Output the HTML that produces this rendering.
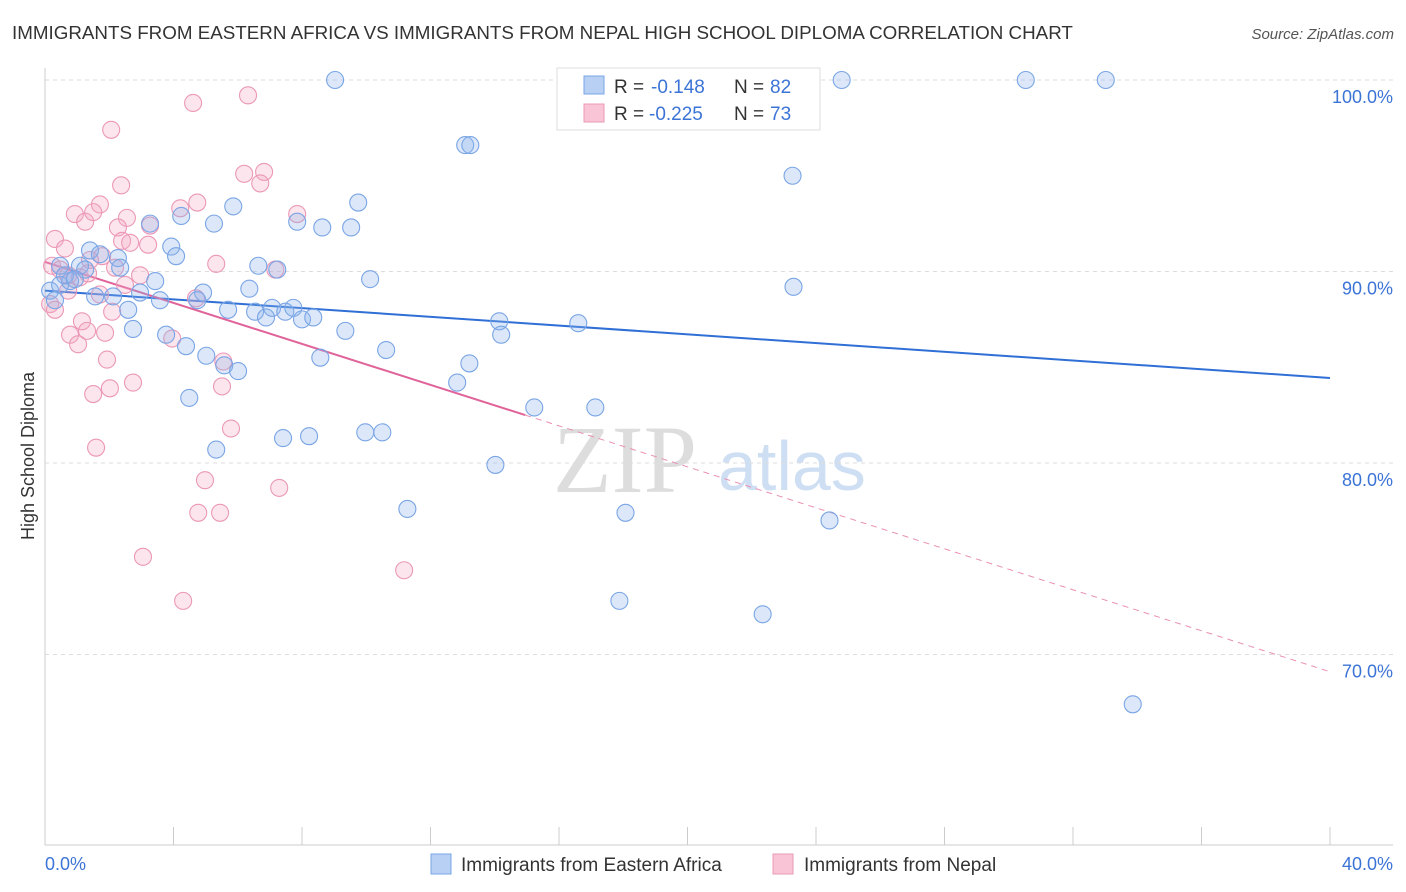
<!DOCTYPE html>
<html><head><meta charset="utf-8"><style>
body{margin:0;background:#fff;font-family:"Liberation Sans",sans-serif;}
svg{display:block}
</style></head><body>
<svg id="chart" width="1406" height="892" viewBox="0 0 1406 892" xmlns="http://www.w3.org/2000/svg">
<text x="12" y="39" font-size="18.8" fill="#333">IMMIGRANTS FROM EASTERN AFRICA VS IMMIGRANTS FROM NEPAL HIGH SCHOOL DIPLOMA CORRELATION CHART</text>
<text x="1394" y="39" font-size="15" fill="#555" text-anchor="end" font-style="italic">Source: ZipAtlas.com</text>
<text transform="translate(34,456) rotate(-90)" font-size="18" fill="#333" text-anchor="middle">High School Diploma</text>
<g><text x="553" y="492" font-size="96" fill="#ddd" font-family="Liberation Serif,serif">ZIP</text><text x="718" y="490" font-size="70" fill="#cfdff3">atlas</text></g>
<g id="grid"></g><g id="axes"></g><g id="lines"></g><g id="pts"></g>
<g>
<rect x="557" y="68" width="263" height="62" fill="#fff" stroke="#ddd"/>
<rect x="584" y="76" width="20" height="18" fill="#b8d0f3" stroke="#7aa5e5"/>
<rect x="584" y="104" width="20" height="18" fill="#f8c4d6" stroke="#eb98b6"/>
<text x="614" y="93" font-size="19" fill="#333">R =</text>
<text x="651" y="93" font-size="19" fill="#3c74d6">-0.148</text>
<text x="734" y="93" font-size="19" fill="#333">N =</text>
<text x="770" y="93" font-size="19" fill="#3c74d6">82</text>
<text x="614" y="120" font-size="19" fill="#333">R =</text>
<text x="649" y="120" font-size="19" fill="#3c74d6">-0.225</text>
<text x="734" y="120" font-size="19" fill="#333">N =</text>
<text x="770" y="120" font-size="19" fill="#3c74d6">73</text>
</g>
<g>
<rect x="431" y="854" width="20" height="20" fill="#b8d0f3" stroke="#7aa5e5"/>
<text x="461" y="871" font-size="19" fill="#333">Immigrants from Eastern Africa</text>
<rect x="773" y="854" width="20" height="20" fill="#f8c4d6" stroke="#eb98b6"/>
<text x="804" y="871" font-size="19" fill="#333">Immigrants from Nepal</text>
</g>
</svg>
<script>
const yTicks=[100,90,80,70];
const xTickLabels=["0.0%","40.0%"];
const blueX=[9.03,17.29,24.8,30.53,33.02,13.08,13.24,23.27,5.86,9.75,4.24,5.26,7.85,8.63,9.53,3.27,3.93,4.08,1.4,1.71,2.27,2.34,6.64,7.23,10.12,3.43,6.36,23.3,0.16,0.47,0.78,1.09,1.56,2.12,2.96,3.58,4.92,4.74,5.7,6.54,6.88,7.07,7.48,7.73,8.0,8.35,2.59,9.35,14.14,14.2,16.6,2.74,3.77,4.39,5.02,5.58,6.01,8.57,10.62,13.21,12.83,4.49,5.33,7.41,8.22,9.97,10.5,14.02,15.23,17.13,11.28,18.07,24.42,17.88,22.34,33.86,0.31,0.62,1.25,0.93,0.47];
const blueY=[100,100,100,100,100,96.6,96.6,95.0,93.4,93.6,92.9,92.5,92.6,92.3,92.3,92.5,91.3,90.8,91.1,90.9,90.7,90.2,90.3,90.1,89.6,89.5,89.1,89.2,89.0,89.3,89.5,90.3,88.7,88.7,88.9,88.5,88.9,88.5,88.0,87.9,87.6,88.1,87.9,88.1,87.5,87.6,88.0,86.9,87.4,86.7,87.3,87.0,86.7,86.1,85.6,85.1,84.8,85.5,85.9,85.2,84.2,83.4,80.7,81.3,81.4,81.6,81.6,79.9,82.9,82.9,77.6,77.4,77.0,72.8,72.1,67.4,88.5,89.8,90.1,89.6,90.3];
const pinkX=[4.61,6.32,2.06,2.37,6.2,6.82,6.7,4.74,4.21,3.27,2.55,1.71,0.93,0.31,0.62,1.25,1.5,2.27,2.4,2.65,3.21,1.78,1.4,0.22,0.47,0.72,1.09,1.34,5.33,7.17,7.85,2.18,2.49,4.7,0.16,0.31,0.72,1.15,1.31,0.78,1.03,1.87,3.96,2.09,1.93,2.02,2.74,1.5,5.55,5.51,5.79,1.59,4.98,4.77,5.45,7.29,3.05,4.3,11.18,1.71,2.96];
const pinkY=[98.8,99.2,97.4,94.5,95.1,95.2,94.6,93.6,93.3,92.4,92.8,93.5,93.0,91.7,91.2,92.6,93.1,92.3,91.6,91.5,91.4,90.8,90.6,90.3,90.1,89.8,89.7,89.9,90.4,90.1,93.0,90.2,89.3,88.6,88.3,88.0,89.0,87.4,86.9,86.7,86.2,86.8,86.5,87.9,85.4,83.9,84.2,83.6,85.3,84.0,81.8,80.8,79.1,77.4,77.4,78.7,75.1,72.8,74.4,88.8,89.8];
const blueTrend=[89.0,84.44];
const pinkTrend=[90.5,69.1];
const pinkSolidEnd=14.95;
const NS="http://www.w3.org/2000/svg";
const xs=v=>45+v*32.125;
const ys=v=>80+(100-v)*19.15;
function mk(t,a,p){const e=document.createElementNS(NS,t);for(const k in a)e.setAttribute(k,a[k]);p.appendChild(e);return e;}
const grid=document.getElementById('grid'),axes=document.getElementById('axes'),lines=document.getElementById('lines'),pts=document.getElementById('pts');
yTicks.forEach(t=>{const l=mk('line',{x1:45,x2:1393,y1:ys(t),y2:ys(t),stroke:'#ddd','stroke-dasharray':'4,4'},grid);


const tx=mk('text',{x:1393,y:ys(t)+23,'font-size':18,fill:'#3c74d6','text-anchor':'end'},grid);tx.textContent=t.toFixed(1)+'%';

});
const ax=mk('line',{x1:45,x2:45,y1:68,y2:845,stroke:'#ccc'},axes);


const bx=mk('line',{x1:45,x2:1393,y1:845,y2:845,stroke:'#ccc'},axes);


for(let i=0;i<=10;i++){const t=mk('line',{x1:xs(i*4),x2:xs(i*4),y1:827,y2:845,stroke:'#ccc'},axes);

}
[[0,'start',45],[40,'end',1393]].forEach((d,i)=>{const t=mk('text',{x:d[2],y:870,'font-size':18,fill:'#3c74d6','text-anchor':d[1]},axes);t.textContent=xTickLabels[i];

});
function dot(x,y,s,f,n){const c=mk('circle',{cx:xs(x),cy:ys(y),r:8.5,fill:f,stroke:s,'stroke-width':1.1},pts);

}
pinkX.forEach((x,i)=>dot(x,pinkY[i],'#eb98b6','rgba(244,170,196,0.3)','nepal-point'));
blueX.forEach((x,i)=>dot(x,blueY[i],'#7aa5e5','rgba(140,180,236,0.3)','eastern-africa-point'));
const bl=mk('line',{x1:xs(0),y1:ys(blueTrend[0]),x2:xs(40),y2:ys(blueTrend[1]),stroke:'#2f6fd6','stroke-width':2},lines);


const py=x=>pinkTrend[0]+(pinkTrend[1]-pinkTrend[0])*x/40;
const pl=mk('line',{x1:xs(0),y1:ys(pinkTrend[0]),x2:xs(pinkSolidEnd),y2:ys(py(pinkSolidEnd)),stroke:'#e0649a','stroke-width':2},lines);


const pd=mk('line',{x1:xs(pinkSolidEnd),y1:ys(py(pinkSolidEnd)),x2:xs(40),y2:ys(pinkTrend[1]),stroke:'#e98fb4','stroke-width':1,'stroke-dasharray':'6,5'},lines);


</script>
</body></html>
